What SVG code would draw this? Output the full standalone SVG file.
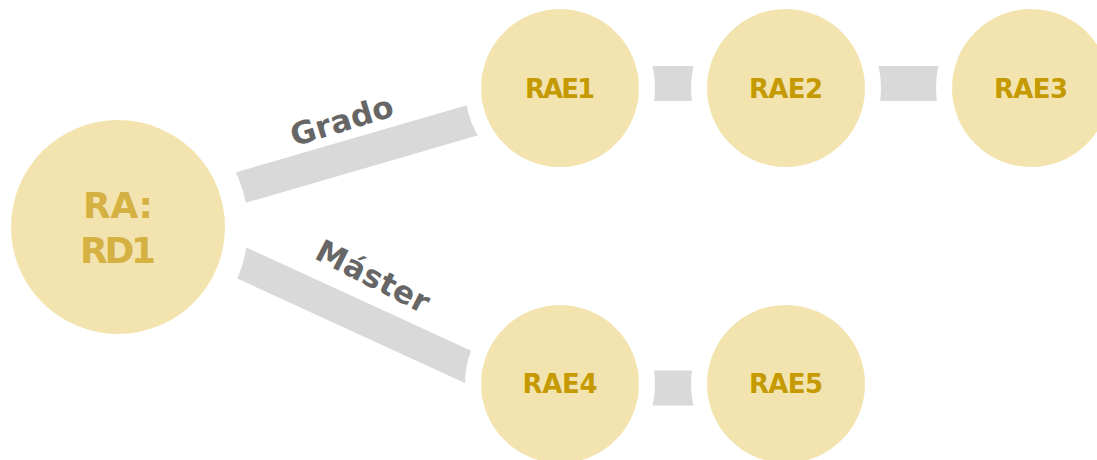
<svg xmlns="http://www.w3.org/2000/svg" width="1097" height="460" viewBox="0 0 1097 460">
<style>
.band{stroke:#D9D9D9;fill:none;stroke-linecap:butt}
.node{fill:#F3E4AF;stroke:#FFFFFF;paint-order:stroke}
.rae{font-family:"DejaVu Sans",sans-serif;font-weight:700;font-size:26px;fill:#C49A00;text-anchor:middle}
.root{font-family:"DejaVu Sans",sans-serif;font-weight:700;font-size:36px;fill:#D5B042;text-anchor:middle}
.lbl{font-family:"DejaVu Sans",sans-serif;font-weight:700;font-size:31px;fill:#666666;text-anchor:middle}
</style>
<rect width="1097" height="460" fill="#FFFFFF"/>
<g id="connectors">
<line class="band" x1="160" y1="211" x2="540" y2="100.7" stroke-width="32"/>
<line class="band" x1="160" y1="225.4" x2="540" y2="400" stroke-width="32"/>
<line class="band" x1="600" y1="83.5" x2="760" y2="83.5" stroke-width="35"/>
<line class="band" x1="840" y1="83.5" x2="1000" y2="83.5" stroke-width="35"/>
<line class="band" x1="600" y1="388" x2="760" y2="388" stroke-width="35"/>
<text class="lbl" transform="translate(345,131) rotate(-17)" textLength="106">Grado</text>
<text class="lbl" transform="translate(368,286) rotate(27)" textLength="123">Máster</text>
</g>
<g id="RA">
<circle class="node" cx="118" cy="227" r="107" stroke-width="46"/>
<text class="root" x="118" y="218" textLength="70">RA:</text>
<text class="root" x="118" y="263" textLength="76">RD1</text>
</g>
<g id="RAE1">
<circle class="node" cx="560" cy="88" r="79" stroke-width="32"/>
<text class="rae" x="560" y="98" textLength="70">RAE1</text>
</g>
<g id="RAE2">
<circle class="node" cx="786" cy="88" r="79" stroke-width="32"/>
<text class="rae" x="786" y="98" textLength="74">RAE2</text>
</g>
<g id="RAE3">
<circle class="node" cx="1031" cy="88" r="79" stroke-width="32"/>
<text class="rae" x="1031" y="98" textLength="74">RAE3</text>
</g>
<g id="RAE4">
<circle class="node" cx="560" cy="384" r="79" stroke-width="32"/>
<text class="rae" x="560" y="393" textLength="75">RAE4</text>
</g>
<g id="RAE5">
<circle class="node" cx="786" cy="384" r="79" stroke-width="32"/>
<text class="rae" x="786" y="393" textLength="74">RAE5</text>
</g>
</svg>
